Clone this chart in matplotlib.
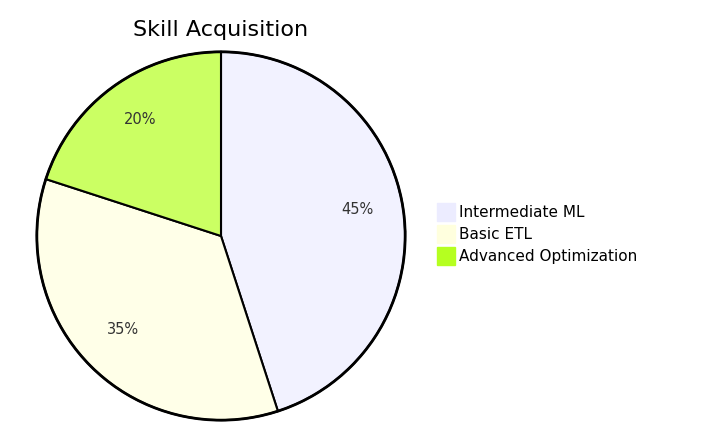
import matplotlib.pyplot as plt
from matplotlib.patches import Circle, Rectangle

# data
labels = ["Intermediate ML", "Basic ETL", "Advanced Optimization"]
values = [45, 35, 20]
legend_colors = ["#ECECFF", "#FFFFDE", "#B5FF20"]
slice_colors = ["#F2F2FF", "#FFFFE8", "#CBFF63"]
title = "Skill Acquisition"

plt.rcParams['font.family'] = ['DejaVu Sans']

fig = plt.figure(figsize=(7.07, 4.31), dpi=100)
W, H = 707, 431
cx, cy, r = 221, 237, 186

ax = fig.add_axes([(cx - r) / W, (H - cy - r) / H, 2 * r / W, 2 * r / H])
wedges, texts = ax.pie(values, colors=slice_colors, startangle=90, counterclock=False,
                       labels=[f"{v}%" for v in values], labeldistance=0.75,
                       wedgeprops=dict(edgecolor="black", linewidth=1.5),
                       textprops=dict(fontsize=10.5, color="#333333"),
                       radius=1.0)
# labels sit a little higher in the original
for t in texts:
    x, y = t.get_position()
    t.set_position((x, y + 0.03))
    t.set_ha("center")
    t.set_va("center")
ax.add_patch(Circle((0, 0), 1.0, fill=False, edgecolor="black", linewidth=2))
ax.set_xlim(-1.01, 1.01)
ax.set_ylim(-1.01, 1.01)
ax.set_aspect("equal")
ax.axis("off")

fig.text(cx / W, 1 - 30 / H, title, ha="center", va="center", fontsize=16, color="black")

# legend
for i, (lab, col) in enumerate(zip(labels, legend_colors)):
    top = 204 + i * 22
    fig.patches.append(Rectangle((437 / W, 1 - (top + 18) / H), 18 / W, 18 / H,
                                 transform=fig.transFigure, facecolor=col, edgecolor=col))
    fig.text(459 / W, 1 - (top + 9) / H, lab, ha="left", va="center", fontsize=11, color="black")

fig.savefig("out.png", dpi=100)
